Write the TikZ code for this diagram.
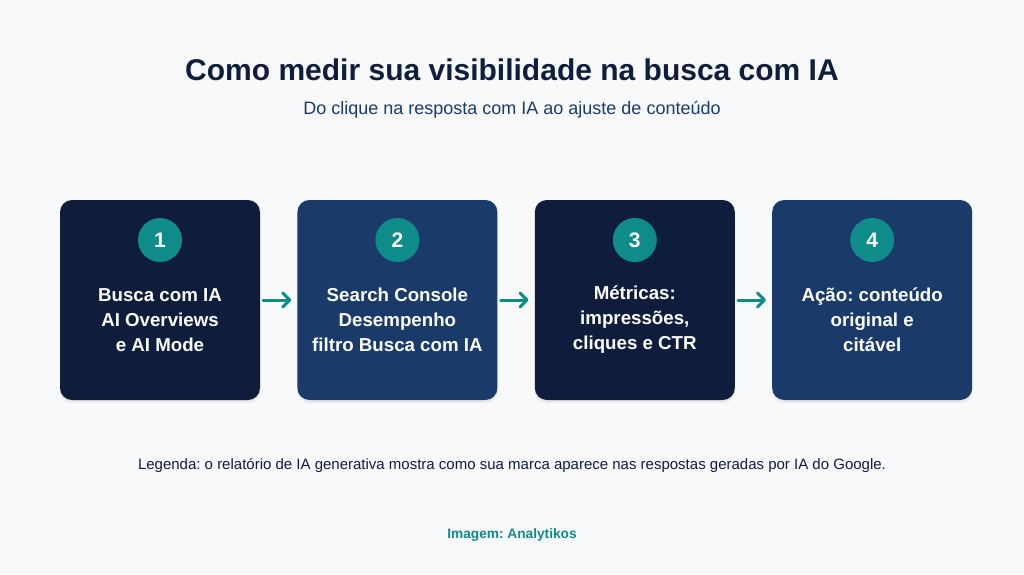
\documentclass[tikz,border=0pt]{standalone}
\usepackage{fontspec}
\setmainfont{Liberation Sans}
\frenchspacing
\usetikzlibrary{arrows.meta,positioning,shadows}
\definecolor{bgpage}{HTML}{F7F9FB}
\definecolor{navydark}{HTML}{0F1D3D}
\definecolor{navymid}{HTML}{1A3A6A}
\definecolor{tealmark}{HTML}{0F8C89}
\definecolor{titleink}{HTML}{0F1E3D}
\definecolor{subink}{HTML}{1B3A68}
\tikzset{%
  stepbox/.style={rectangle,rounded corners=12pt,minimum width=200pt,minimum height=200pt,
    drop shadow={opacity=0.12,shadow xshift=0pt,shadow yshift=-3pt}},
  darkbox/.style={stepbox,fill=navydark},
  midbox/.style={stepbox,fill=navymid},
  badge/.style={circle,fill=tealmark,minimum size=44pt,inner sep=0pt,text=white,
    font=\fontsize{21}{24}\selectfont\bfseries},
  steptext/.style={align=center,text=white,font=\fontsize{18.7}{25}\selectfont\bfseries},
  flow/.style={draw=tealmark,line width=3pt,-{Straight Barb[length=7pt,width=14pt,round]},
    line cap=round,shorten <=3pt,shorten >=6pt}%
}
\begin{document}
\begin{tikzpicture}[x=1pt,y=-1pt,node distance=37pt]
    \fill[bgpage] (0,0) rectangle (1024,574);
    \useasboundingbox (0,0) rectangle (1024,574);

    \node (title) [text=titleink,font=\fontsize{30}{34}\selectfont\bfseries] at (512,70)
      {Como medir sua visibilidade na busca com IA};
    \node (subtitle) [text=subink,font=\fontsize{18}{20}\selectfont] at (512,110)
      {Do clique na resposta com IA ao ajuste de conteúdo};

    \node (box_a) [darkbox] at (160,300) {};
    \node (box_b) [midbox, right=of box_a] {};
    \node (box_c) [darkbox, right=of box_b] {};
    \node (box_d) [midbox, right=of box_c] {};

    \node (num_a) [badge, below=18pt of box_a.north] {1};
    \node (num_b) [badge, below=18pt of box_b.north] {2};
    \node (num_c) [badge, below=18pt of box_c.north] {3};
    \node (num_d) [badge, below=18pt of box_d.north] {4};

    \node (txt_a) [steptext] at ([yshift=-20pt]box_a.center) {Busca com IA\\AI Overviews\\e AI Mode};
    \node (txt_b) [steptext] at ([yshift=-20pt]box_b.center) {Search Console\\Desempenho\\filtro Busca com IA};
    \node (txt_c) [steptext] at ([yshift=-20pt]box_c.center) {Métricas:\\impressões,\\cliques e CTR};
    \node (txt_d) [steptext] at ([yshift=-20pt]box_d.center) {Ação: conteúdo\\original e\\citável};

    \path (box_a) edge[flow] (box_b)
          (box_b) edge[flow] (box_c)
          (box_c) edge[flow] (box_d);

    \node (legend) [text=titleink,font=\fontsize{15}{17}\selectfont] at (512,466)
      {Legenda: o relatório de IA generativa mostra como sua marca aparece nas respostas geradas por IA do Google.};
    \node (credit) [text=tealmark,font=\fontsize{13.7}{16}\selectfont\bfseries] at (512,535)
      {Imagem: Analytikos};
\end{tikzpicture}
\end{document}
